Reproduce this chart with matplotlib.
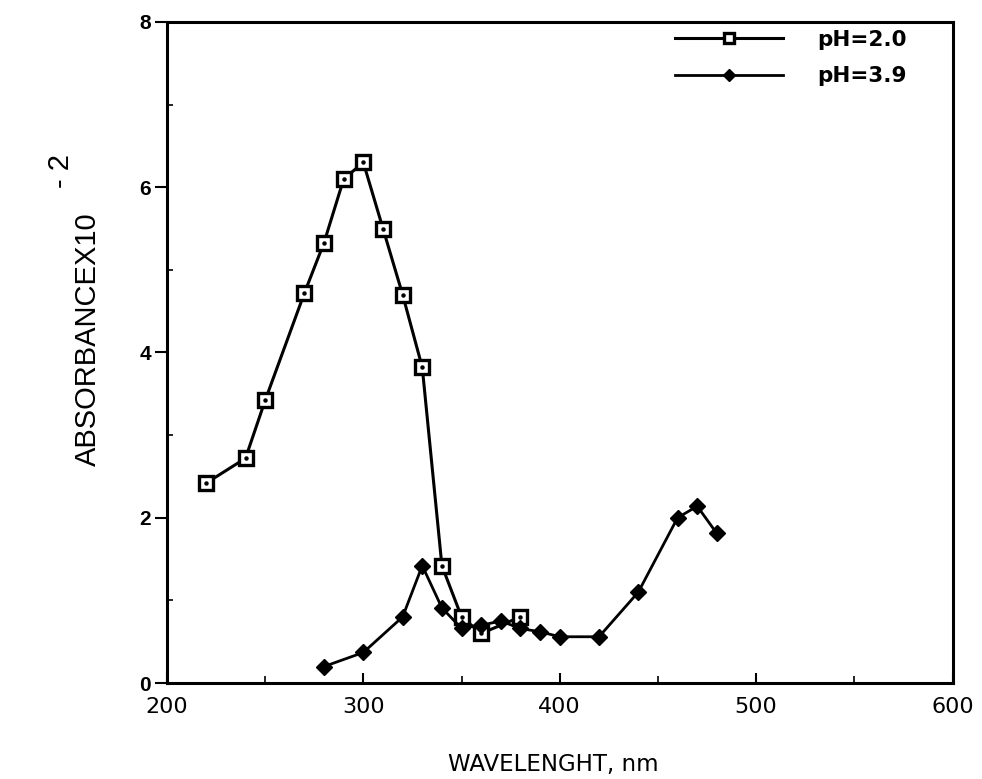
import matplotlib
matplotlib.use("Agg")
import matplotlib.pyplot as plt
from matplotlib.ticker import MultipleLocator

# Data
wl_ph20 = [220, 240, 250, 270, 280, 290, 300, 310, 320, 330, 340, 350, 360, 380]
abs_ph20 = [2.42, 2.72, 3.42, 4.72, 5.33, 6.1, 6.3, 5.5, 4.7, 3.82, 1.42, 0.8, 0.6, 0.8]

wl_ph39 = [280, 300, 320, 330, 340, 350, 360, 370, 380, 390, 400, 420, 440, 460, 470, 480]
abs_ph39 = [0.2, 0.37, 0.8, 1.42, 0.91, 0.66, 0.7, 0.75, 0.66, 0.62, 0.56, 0.56, 1.1, 2.0, 2.14, 1.81]

series_labels = ["pH=2.0", "pH=3.9"]
x_ticks = [200, 300, 400, 500, 600]
y_ticks = [0, 2, 4, 6, 8]

fam = ['Liberation Sans', 'DejaVu Sans']
djv = ['DejaVu Sans']

fig = plt.figure(figsize=(9.82, 7.79), dpi=100)
ax = fig.add_axes([0.170, 0.1232, 0.800, 0.8486])

l1, = ax.plot(wl_ph20, abs_ph20, color='black', lw=2.2, marker='s', ms=9.5,
              mfc='white', mec='black', mew=2.4, zorder=3)
ax.plot(wl_ph20, abs_ph20, ls='none', marker='o', ms=2.2, color='black', zorder=4)
l2, = ax.plot(wl_ph39, abs_ph39, color='black', lw=2.0, marker='D', ms=8,
              mfc='black', mec='black', zorder=3)

ax.set_xlim(200, 600)
ax.set_ylim(0, 8)
ax.set_xticks(x_ticks)
ax.set_yticks(y_ticks)
ax.xaxis.set_minor_locator(MultipleLocator(50))
ax.yaxis.set_minor_locator(MultipleLocator(1))
ax.tick_params(axis='x', which='major', direction='in', length=7, width=1.5, pad=10)
ax.tick_params(axis='x', which='minor', direction='in', length=5, width=1.2)
ax.tick_params(axis='y', which='major', direction='out', length=8.5, width=1.5, pad=3)
ax.tick_params(axis='y', which='minor', direction='in', length=4, width=1.2)
for sp in ax.spines.values():
    sp.set_linewidth(2.2)

for t in ax.get_xticklabels():
    t.set_fontfamily(djv)
    t.set_fontsize(16)
for t in ax.get_yticklabels():
    t.set_fontfamily(fam)
    t.set_fontsize(15)
    t.set_fontweight('bold')

# Axis labels
fig.text(0.563, 1 - 764 / 779, "WAVELENGHT, nm", ha='center', va='center',
         fontsize=16.5, family=djv)
fig.text(0.090, 0.565, "ABSORBANCEX10", rotation=90, ha='center', va='center',
         fontsize=21, family=fam)
fig.text(0.062, 0.78, "- 2", rotation=90, ha='center', va='center',
         fontsize=21, family=fam)

leg = ax.legend([l1, l2], series_labels, loc='upper left', frameon=False,
                prop={'family': djv, 'size': 15.5, 'weight': 'bold'},
                handlelength=5.0, handletextpad=1.6, borderaxespad=0.0,
                borderpad=0.0, labelspacing=0.75, markerscale=0.8,
                bbox_to_anchor=(0.647, 0.988))

fig.savefig("out.png", dpi=100)
